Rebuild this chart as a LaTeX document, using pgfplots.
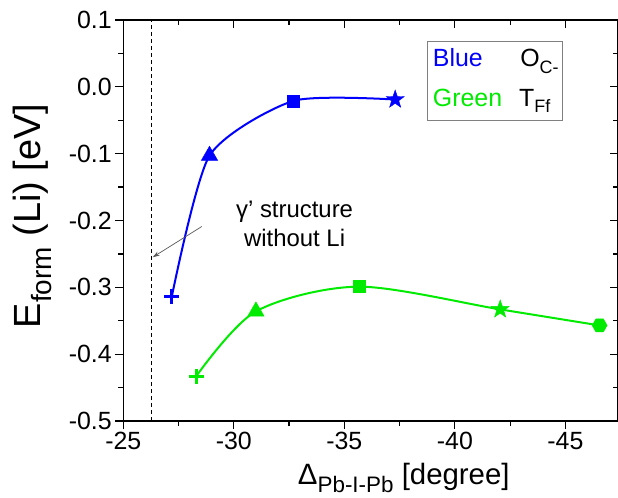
\documentclass[border=0pt]{standalone}
\usepackage{fontspec}
\setmainfont{Liberation Sans}
\usepackage{pgfplots}
\pgfplotsset{compat=1.18}
\usetikzlibrary{arrows.meta}

\definecolor{cblue}{RGB}{0,0,255}
\definecolor{cgreen}{RGB}{0,235,0}

% subscript at a fixed size, lowered below the baseline
\newcommand{\sub}[2][18]{\raisebox{-0.28em}{\fontsize{#1}{#1}\selectfont #2}}

% filled five-pointed star
\pgfdeclareplotmark{fstar}{%
  \pgfpathmoveto{\pgfpointpolar{90}{\pgfplotmarksize}}%
  \pgfpathlineto{\pgfpointpolar{126}{0.4*\pgfplotmarksize}}%
  \pgfpathlineto{\pgfpointpolar{162}{\pgfplotmarksize}}%
  \pgfpathlineto{\pgfpointpolar{198}{0.4*\pgfplotmarksize}}%
  \pgfpathlineto{\pgfpointpolar{234}{\pgfplotmarksize}}%
  \pgfpathlineto{\pgfpointpolar{270}{0.4*\pgfplotmarksize}}%
  \pgfpathlineto{\pgfpointpolar{306}{\pgfplotmarksize}}%
  \pgfpathlineto{\pgfpointpolar{342}{0.4*\pgfplotmarksize}}%
  \pgfpathlineto{\pgfpointpolar{18}{\pgfplotmarksize}}%
  \pgfpathlineto{\pgfpointpolar{54}{0.4*\pgfplotmarksize}}%
  \pgfpathclose
  \pgfusepathqfillstroke}
% filled hexagon
\pgfdeclareplotmark{hexagon}{%
  \pgfpathmoveto{\pgfpointpolar{0}{\pgfplotmarksize}}%
  \pgfpathlineto{\pgfpointpolar{60}{\pgfplotmarksize}}%
  \pgfpathlineto{\pgfpointpolar{120}{\pgfplotmarksize}}%
  \pgfpathlineto{\pgfpointpolar{180}{\pgfplotmarksize}}%
  \pgfpathlineto{\pgfpointpolar{240}{\pgfplotmarksize}}%
  \pgfpathlineto{\pgfpointpolar{300}{\pgfplotmarksize}}%
  \pgfpathclose
  \pgfusepathqfillstroke}

\pgfplotsset{
  frame/.style={
    scale only axis, width=494.7bp, height=401bp,
    x dir=reverse, xmin=-47.38, xmax=-25, ymin=-0.5, ymax=0.1,
    xtick={-25,-30,-35,-40,-45},
    ytick={-0.5,-0.4,-0.3,-0.2,-0.1,0,0.1},
    minor x tick num=1, minor y tick num=1,
    major tick length=8bp, minor tick length=5bp,
    every tick/.style={black, line width=1.2bp},
    axis line style={-, black, line width=1.5bp},
  },
  pluses/.style={only marks, mark=+, mark size=7.5bp, mark options={line width=3bp}},
}

\begin{document}
\begin{tikzpicture}
\begin{axis}[
  frame,
  axis x line*=bottom, axis y line*=left, tick align=outside,
  ticklabel style={font=\fontsize{25}{30}\selectfont},
  /pgf/number format/assume math mode=true,
  yticklabel style={/pgf/number format/.cd, fixed, fixed zerofill, precision=1},
  xticklabel style={/pgf/number format/.cd, fixed, precision=0},
  xlabel={Δ\sub[22.5]{Pb-I-Pb} [degree]},
  ylabel={E\sub[28]{form} (Li) [eV]},
  xlabel style={at={(axis description cs:0.567,-0.142)}, anchor=center,
    font=\fontsize{29.5}{35}\selectfont},
  ylabel style={at={(axis description cs:-0.1835,0.511)}, anchor=center,
    font=\fontsize{38}{44}\selectfont},
]
% reference: gamma' structure without Li
\addplot[black, line width=1bp, dash pattern=on 4bp off 3bp] coordinates {(-26.27,-0.5) (-26.27,0.1)};

% O_C- (blue)
\addplot[cblue, line width=2bp, smooth, tension=0.4] coordinates {
  (-27.2,-0.313) (-28.9,-0.103) (-32.7,-0.021) (-37.3,-0.019)};
\addplot[cblue, pluses] coordinates {(-27.2,-0.313)};
\addplot[cblue, only marks, mark=triangle*, mark size=9.5bp] coordinates {(-28.9,-0.103)};
\addplot[cblue, only marks, mark=square*, mark size=6bp] coordinates {(-32.7,-0.021)};
\addplot[cblue, only marks, mark=fstar, mark size=9.5bp] coordinates {(-37.3,-0.019)};

% T_Ff (green)
\addplot[cgreen, line width=2bp, smooth, tension=0.5] coordinates {
  (-28.3,-0.433) (-31.0,-0.336) (-35.65,-0.299) (-42.05,-0.333) (-46.55,-0.357)};
\addplot[cgreen, pluses] coordinates {(-28.3,-0.433)};
\addplot[cgreen, only marks, mark=triangle*, mark size=9.5bp] coordinates {(-31.0,-0.336)};
\addplot[cgreen, only marks, mark=square*, mark size=6bp] coordinates {(-35.65,-0.299)};
\addplot[cgreen, only marks, mark=fstar, mark size=9.5bp] coordinates {(-42.05,-0.333)};
\addplot[cgreen, only marks, mark=hexagon, mark size=7.5bp] coordinates {(-46.55,-0.357)};

% annotation
\node[align=center, font=\fontsize{24}{30}\selectfont] at (axis cs:-32.75,-0.205)
  {γ’ structure\\without Li};
\draw[gray!70!black, line width=0.7bp, -{Stealth[length=7bp,width=4.5bp]}]
  (axis cs:-28.55,-0.209) -- (axis cs:-26.33,-0.255);

% key box
\draw[gray, line width=1bp] (axis cs:-38.76,0.0675) rectangle (axis cs:-44.86,-0.0497);
\begin{scope}[every node/.style={inner sep=0pt, anchor=base west, font=\fontsize{25}{30}\selectfont}]
\node[text=cblue] at (axis cs:-39.0,0.030) {Blue};
\node[text=black] at (axis cs:-42.95,0.030) {O\sub{C-}};
\node[text=cgreen] at (axis cs:-39.0,-0.0287) {Green};
\node[text=black] at (axis cs:-42.9,-0.0287) {T\sub{Ff}};
\end{scope}
\end{axis}
% top and right edges, ticks pointing inwards
\begin{axis}[
  frame,
  axis x line*=top, axis y line*=right, tick align=inside,
  xticklabels={}, yticklabels={},
]
\end{axis}
\pgfresetboundingbox
\path[use as bounding box] (-123.3bp,-77bp) rectangle (494.7bp,421bp);
\end{tikzpicture}
\end{document}
